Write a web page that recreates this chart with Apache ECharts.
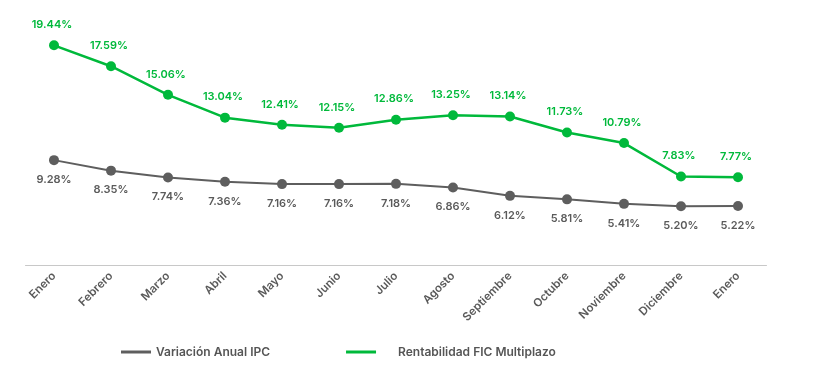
<!DOCTYPE html>
<html>
<head>
<meta charset="utf-8">
<script src="https://cdn.jsdelivr.net/npm/echarts@6/dist/echarts.min.js"></script>
<style>
html,body{margin:0;padding:0;background:#fff;}
#c{width:813px;height:368px;}
</style>
</head>
<body>
<div id="c"></div>
<script>
var categories = ['Enero','Febrero','Marzo','Abril','Mayo','Junio','Julio','Agosto','Septiembre','Octubre','Noviembre','Diciembre','Enero'];
var ipcValues = [9.28, 8.35, 7.74, 7.36, 7.16, 7.16, 7.18, 6.86, 6.12, 5.81, 5.41, 5.20, 5.22];
var ficValues = [19.44, 17.59, 15.06, 13.04, 12.41, 12.15, 12.86, 13.25, 13.14, 11.73, 10.79, 7.83, 7.77];
var seriesNames = ['Variación Anual IPC', 'Rentabilidad FIC Multiplazo'];

var GREEN = '#00b93b';
var GRAY = '#5e5e5e';
var FONT = 'Inter';

var chart = echarts.init(document.getElementById('c'), null, {renderer: 'canvas'});
chart.setOption({
  animation: false,
  backgroundColor: '#ffffff',
  textStyle: {fontFamily: FONT},
  grid: {left: 25.5, right: 46.5, top: 39, bottom: 103, containLabel: false},
  legend: {
    left: 116,
    top: 341,
    itemWidth: 30,
    itemHeight: 3,
    itemGap: 76,
    icon: 'rect',
    data: [
      {name: seriesNames[0]},
      {name: seriesNames[1], textStyle: {padding: [0, 0, 0, 17]}}
    ],
    textStyle: {color: '#555555', fontFamily: FONT, fontWeight: 600, fontSize: 12}
  },
  xAxis: {
    type: 'category',
    data: categories,
    boundaryGap: true,
    axisLine: {lineStyle: {color: '#c8c8c8', width: 1}},
    axisTick: {show: false},
    axisLabel: {
      rotate: 45,
      interval: 0,
      margin: 9,
      color: '#5a5a5a',
      fontFamily: FONT,
      fontWeight: 600,
      fontSize: 11.5
    }
  },
  yAxis: {
    type: 'value',
    min: 0,
    max: 20,
    show: false,
    splitLine: {show: false}
  },
  series: [
    {
      name: seriesNames[0],
      type: 'line',
      data: ipcValues,
      symbol: 'circle',
      symbolSize: 10,
      itemStyle: {color: GRAY},
      lineStyle: {color: GRAY, width: 2},
      label: {
        show: true,
        position: 'bottom',
        distance: 9,
        color: '#5a5a5a',
        fontFamily: FONT,
        fontWeight: 600,
        fontSize: 11,
        formatter: function (p) { return p.value.toFixed(2) + '%'; }
      }
    },
    {
      name: seriesNames[1],
      type: 'line',
      data: ficValues,
      symbol: 'circle',
      symbolSize: 10,
      itemStyle: {color: GREEN},
      lineStyle: {color: GREEN, width: 2.5},
      label: {
        show: true,
        position: 'top',
        distance: 10,
        offset: [-2, 0],
        color: GREEN,
        fontFamily: FONT,
        fontWeight: 600,
        fontSize: 11,
        formatter: function (p) { return p.value.toFixed(2) + '%'; }
      }
    }
  ]
});
</script>
</body>
</html>
